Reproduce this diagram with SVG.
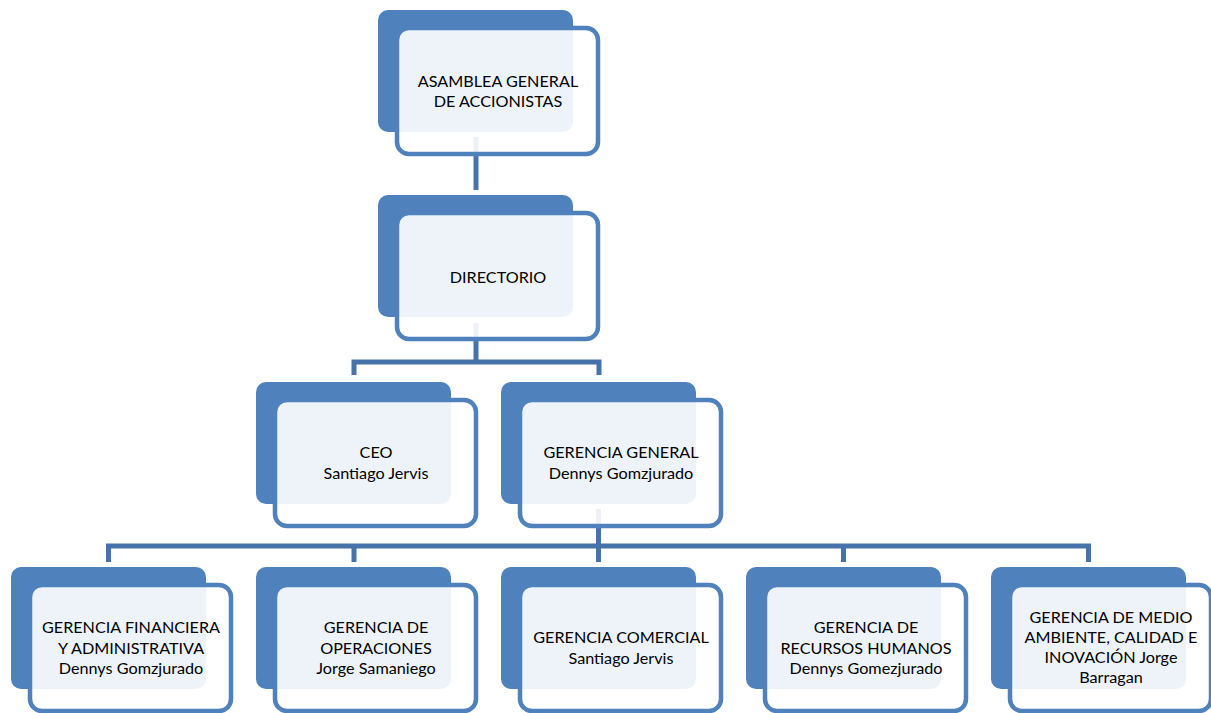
<svg xmlns="http://www.w3.org/2000/svg" width="1211" height="713" viewBox="0 0 1211 713">
<style>
.bk{fill:#4F81BD}
.fr{fill:#FFFFFF;fill-opacity:0.9;stroke:#4F81BD;stroke-width:4.5}
.cn{fill:none;stroke:#4673AA;stroke-width:5}
text{font-family:Lato,"Liberation Sans",sans-serif;font-size:16.2px;fill:#000;text-anchor:middle}
</style>
<rect width="1211" height="713" fill="#FFFFFF"/>
<g id="connectors">
<path class="cn" d="M476,137 V190"/>
<path class="cn" d="M476,323 V362"/>
<path class="cn" d="M354,375 V362 H599 V375"/>
<path class="cn" d="M598.5,509 V546"/>
<path class="cn" d="M108.5,562 V546 H1088.5 V562"/>
<path class="cn" d="M354,546 V562"/>
<path class="cn" d="M598.5,546 V562"/>
<path class="cn" d="M843.5,546 V562"/>
</g>
<g id="asamblea">
<rect class="bk" x="378" y="10" width="195" height="122" rx="10"/>
<rect class="fr" x="397" y="28" width="201" height="126" rx="12"/>
<text x="498" y="87">ASAMBLEA GENERAL</text>
<text x="498" y="107">DE ACCIONISTAS</text>
</g>
<g id="directorio">
<rect class="bk" x="378" y="195" width="195" height="122" rx="10"/>
<rect class="fr" x="397" y="213" width="201" height="126" rx="12"/>
<text x="498" y="283">DIRECTORIO</text>
</g>
<g id="ceo">
<rect class="bk" x="256" y="382" width="195" height="122" rx="10"/>
<rect class="fr" x="275" y="400" width="201" height="126" rx="12"/>
<text x="376" y="458">CEO</text>
<text x="376" y="479">Santiago Jervis</text>
</g>
<g id="gerencia-general">
<rect class="bk" x="501" y="382" width="195" height="122" rx="10"/>
<rect class="fr" x="520" y="400" width="201" height="126" rx="12"/>
<text x="621" y="458">GERENCIA GENERAL</text>
<text x="621" y="479">Dennys Gomzjurado</text>
</g>
<g id="financiera">
<rect class="bk" x="11" y="567" width="195" height="122" rx="10"/>
<rect class="fr" x="30" y="585" width="201" height="126" rx="12"/>
<text x="131" y="633">GERENCIA FINANCIERA</text>
<text x="131" y="654">Y ADMINISTRATIVA</text>
<text x="131" y="674">Dennys Gomzjurado</text>
</g>
<g id="operaciones">
<rect class="bk" x="256" y="567" width="195" height="122" rx="10"/>
<rect class="fr" x="275" y="585" width="201" height="126" rx="12"/>
<text x="376" y="633">GERENCIA DE</text>
<text x="376" y="654">OPERACIONES</text>
<text x="376" y="674">Jorge Samaniego</text>
</g>
<g id="comercial">
<rect class="bk" x="501" y="567" width="195" height="122" rx="10"/>
<rect class="fr" x="520" y="585" width="201" height="126" rx="12"/>
<text x="621" y="643">GERENCIA COMERCIAL</text>
<text x="621" y="664">Santiago Jervis</text>
</g>
<g id="rrhh">
<rect class="bk" x="746" y="567" width="195" height="122" rx="10"/>
<rect class="fr" x="765" y="585" width="201" height="126" rx="12"/>
<text x="866" y="633">GERENCIA DE</text>
<text x="866" y="654">RECURSOS HUMANOS</text>
<text x="866" y="674">Dennys Gomezjurado</text>
</g>
<g id="medio-ambiente">
<rect class="bk" x="991" y="567" width="195" height="122" rx="10"/>
<rect class="fr" x="1010" y="585" width="201" height="126" rx="12"/>
<text x="1111" y="623">GERENCIA DE MEDIO</text>
<text x="1111" y="643">AMBIENTE, CALIDAD E</text>
<text x="1111" y="663">INOVACIÓN Jorge</text>
<text x="1111" y="683">Barragan</text>
</g>
</svg>
